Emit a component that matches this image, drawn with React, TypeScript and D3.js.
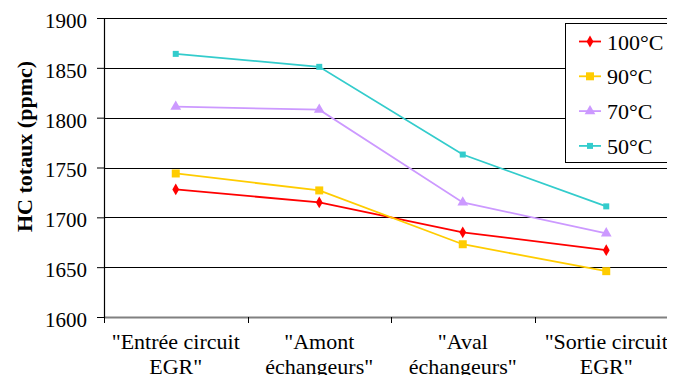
import { useEffect, useRef } from "react";
import * as d3 from "d3";

const categories = [
  ['"Entrée circuit', 'EGR"'],
  ['"Amont', 'échangeurs"'],
  ['"Aval', 'échangeurs"'],
  ['"Sortie circuit', 'EGR"'],
];
const yTicks = [1600, 1650, 1700, 1750, 1800, 1850, 1900];

const series100 = [1728, 1715, 1685, 1667];
const series90 = [1744, 1727, 1673, 1646];
const series70 = [1811, 1808, 1715, 1684];
const series50 = [1864, 1851, 1763, 1711];

const seriesList = [
  { name: "100°C", values: series100, color: "#FF0000", symbol: d3.symbolDiamond, size: 40 },
  { name: "90°C", values: series90, color: "#FFCC00", symbol: d3.symbolSquare, size: 64 },
  { name: "70°C", values: series70, color: "#CC99FF", symbol: d3.symbolTriangle, size: 50 },
  { name: "50°C", values: series50, color: "#33CCCC", symbol: d3.symbolSquare, size: 36 },
];

const FONT = '"Liberation Serif", "DejaVu Serif", serif';

const App = () => {
  const svgRef = useRef<SVGSVGElement>(null);

  useEffect(() => {
    if (!svgRef.current) return;
    d3.select(svgRef.current).selectAll("*").remove();

    const width = 675;
    const height = 383;
    const margin = { top: 18, right: -3, bottom: 66, left: 104 };
    const innerWidth = width - margin.left - margin.right;
    const innerHeight = height - margin.top - margin.bottom;

    const svg = d3.select(svgRef.current)
      .attr("width", width)
      .attr("height", height)
      .style("font-family", FONT)
      .style("display", "block")
      .style("background", "#fff");

    const g = svg.append("g")
      .attr("transform", `translate(${margin.left},${margin.top})`);

    const x = d3.scaleBand<number>()
      .domain(d3.range(categories.length))
      .range([0, innerWidth]);

    const y = d3.scaleLinear()
      .domain([1600, 1900])
      .range([innerHeight, 0]);

    // Gridlines
    g.selectAll(".grid")
      .data(yTicks)
      .join("line")
      .attr("x1", 0)
      .attr("x2", innerWidth)
      .attr("y1", d => Math.round(y(d)) + 0.5)
      .attr("y2", d => Math.round(y(d)) + 0.5)
      .attr("stroke", d => (d === 1600 ? "#808080" : "#000"))
      .attr("stroke-width", d => (d === 1600 ? 2 : 1));

    // Y axis
    const yAxis = g.append("g")
      .call(d3.axisLeft(y).tickValues(yTicks).tickSize(7).tickPadding(10).tickFormat(d3.format("d")));
    yAxis.attr("font-family", null).attr("font-size", null);
    yAxis.select(".domain").attr("stroke", "#000").attr("stroke-width", 1.2);
    yAxis.selectAll(".tick line").attr("stroke", "#000");
    yAxis.selectAll("text")
      .attr("fill", "#000")
      .attr("dy", "0.45em")
      .style("font-family", FONT)
      .style("font-size", "21px");

    // X axis ticks at category boundaries
    const bounds = d3.range(categories.length + 1).map(i => i * x.step());
    g.selectAll(".xtick")
      .data(bounds)
      .join("line")
      .attr("x1", d => Math.round(d) + 0.5)
      .attr("x2", d => Math.round(d) + 0.5)
      .attr("y1", innerHeight)
      .attr("y2", innerHeight + 6)
      .attr("stroke", "#000");

    // Category labels
    categories.forEach((lines, i) => {
      const cx = x(i)! + x.bandwidth() / 2;
      const t = g.append("text")
        .attr("x", cx)
        .attr("y", innerHeight + 31.5)
        .attr("text-anchor", "middle")
        .style("font-family", FONT)
        .style("font-size", "22px")
        .attr("fill", "#000");
      lines.forEach((ln, j) => {
        t.append("tspan")
          .attr("x", cx)
          .attr("dy", j === 0 ? 0 : 25)
          .text(ln);
      });
    });

    // Lines and markers
    const line = d3.line<number>()
      .x((_, i) => x(i)! + x.bandwidth() / 2)
      .y(d => y(d));

    seriesList.forEach(s => {
      g.append("path")
        .datum(s.values)
        .attr("fill", "none")
        .attr("stroke", s.color)
        .attr("stroke-width", 1.8)
        .attr("d", line);

      g.selectAll(null)
        .data(s.values)
        .join("path")
        .attr("transform", (d, i) => `translate(${x(i)! + x.bandwidth() / 2},${y(d)})`)
        .attr("d", d3.symbol().type(s.symbol).size(s.size)())
        .attr("fill", s.color);
    });

    // Y axis title
    svg.append("text")
      .attr("transform", `translate(32,${146.5}) rotate(-90)`)
      .attr("text-anchor", "middle")
      .style("font-family", FONT)
      .style("font-size", "22px")
      .style("font-weight", "bold")
      .attr("fill", "#000")
      .text("HC totaux (ppmc)");

    // Legend
    const legend = svg.append("g").attr("transform", "translate(565,23)");
    legend.append("rect")
      .attr("x", 0.5)
      .attr("y", 0.5)
      .attr("width", 109)
      .attr("height", 139)
      .attr("fill", "#fff")
      .attr("stroke", "#000");
    seriesList.forEach((s, i) => {
      const cy = 18.5 + i * 34.8;
      legend.append("line")
        .attr("x1", 14)
        .attr("x2", 36)
        .attr("y1", cy)
        .attr("y2", cy)
        .attr("stroke", s.color)
        .attr("stroke-width", 1.8);
      legend.append("path")
        .attr("transform", `translate(25,${cy})`)
        .attr("d", d3.symbol().type(s.symbol).size(s.size)())
        .attr("fill", s.color);
      legend.append("text")
        .attr("x", 42)
        .attr("y", cy + 8)
        .style("font-family", FONT)
        .style("font-size", "22px")
        .attr("fill", "#000")
        .text(s.name);
    });
  }, []);

  return (
    <div style={{ margin: -8 }}>
      <svg ref={svgRef}></svg>
    </div>
  );
};

export default App;
